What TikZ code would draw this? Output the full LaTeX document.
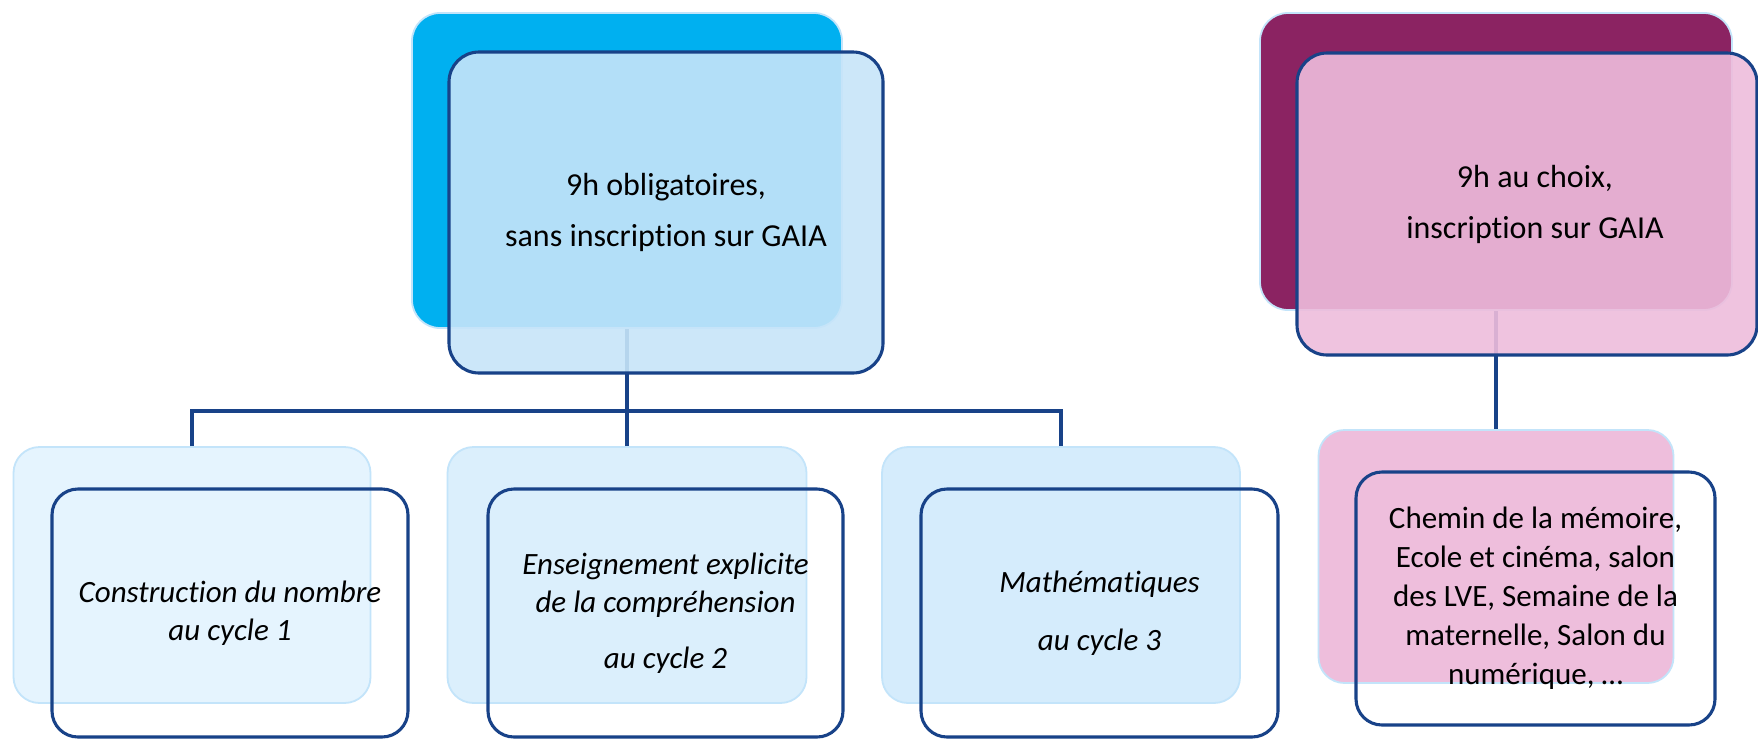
\documentclass[tikz,border=0pt]{standalone}
\usepackage{fontspec}
\setmainfont{Carlito}[Ligatures={NoCommon}]
\definecolor{cyanb}{RGB}{0,176,240}
\definecolor{frontb}{RGB}{199,229,249}
\definecolor{purpb}{RGB}{139,35,98}
\definecolor{frontp}{RGB}{238,189,220}
\definecolor{darkl}{RGB}{24,66,136}
\definecolor{lightl}{RGB}{195,228,250}
\definecolor{bk1}{RGB}{229,244,254}
\definecolor{bk2}{RGB}{219,239,252}
\definecolor{bk3}{RGB}{213,236,252}
\definecolor{bkp}{RGB}{238,190,220}
\tikzset{
  backbox/.style={draw=lightl, line width=1.8pt, rounded corners=28pt, inner sep=0pt},
  frontbox/.style={draw=darkl, line width=3.1pt, rounded corners=30pt, inner sep=0pt, align=center, text=black},
  conn/.style={draw=darkl, line width=3.2pt},
  topfont/.style={font=\fontsize{32}{51}\selectfont},
  botfont/.style={font=\fontsize{31}{38.5}\selectfont\itshape},
  pinkfont/.style={font=\fontsize{31}{39}\selectfont},
}
\begin{document}
\begin{tikzpicture}[x=1pt,y=-1pt]
\useasboundingbox[fill=white] (0,0) rectangle (1758,740);
% back boxes (top)
\node[backbox, fill=cyanb, minimum width=430pt, minimum height=315pt] (tbB) at (627,170.5) {};
\node[backbox, fill=purpb, minimum width=472pt, minimum height=297pt] (tpB) at (1496,161.5) {};
% bus coordinate
\coordinate (bus) at (627,411);
% bottom back boxes
\node[backbox, fill=bk1, rounded corners=26pt, minimum width=357pt, minimum height=256pt] (b1B) at (192,575) {};
\node[backbox, fill=bk2, rounded corners=26pt, minimum width=359pt, minimum height=256pt] (b2B) at (627,575) {};
\node[backbox, fill=bk3, rounded corners=26pt, minimum width=358pt, minimum height=256pt] (b3B) at (1061,575) {};
\node[backbox, fill=bkp, rounded corners=26pt, minimum width=355pt, minimum height=253pt] (pB) at (1496,556.5) {};
% connectors
\draw[conn] (tbB.south) -- (bus);
\draw[conn] (b1B.north) |- (bus) -| (b3B.north);
\draw[conn] (b2B.north) -- (bus);
\draw[conn] (tpB.south) -- (pB.north);
% top front boxes
\node[frontbox, fill=frontb, fill opacity=0.9, text opacity=1, minimum width=434pt, minimum height=321pt, topfont] (tbF) at (666,212.5) {9h obligatoires,\\sans inscription sur GAIA};
\node[frontbox, fill=frontp, fill opacity=0.9, text opacity=1, minimum width=460pt, minimum height=302pt, topfont] (tpF) at (1527,204) {\hspace*{16pt}9h au choix,\\\hspace*{16pt}inscription sur GAIA};
% bottom front boxes
\node[frontbox, rounded corners=26pt, minimum width=356pt, minimum height=248pt, botfont] (b1F) at (230,613) {Construction du nombre\\au cycle 1};
\node[frontbox, rounded corners=26pt, minimum width=355pt, minimum height=248pt, botfont] (b2F) at (665.5,613) {Enseignement explicite\\de la compréhension\\[17pt]au cycle 2};
\node[frontbox, rounded corners=26pt, minimum width=357pt, minimum height=248pt, botfont] (b3F) at (1099.5,613) {Mathématiques\\[19pt]au cycle 3};
\node[frontbox, rounded corners=26pt, minimum width=359pt, minimum height=253pt, pinkfont] (pF) at (1535.5,598.5) {Chemin de la mémoire,\\Ecole et cinéma, salon\\des LVE, Semaine de la\\maternelle, Salon du\\numérique, \dots};
\end{tikzpicture}
\end{document}
